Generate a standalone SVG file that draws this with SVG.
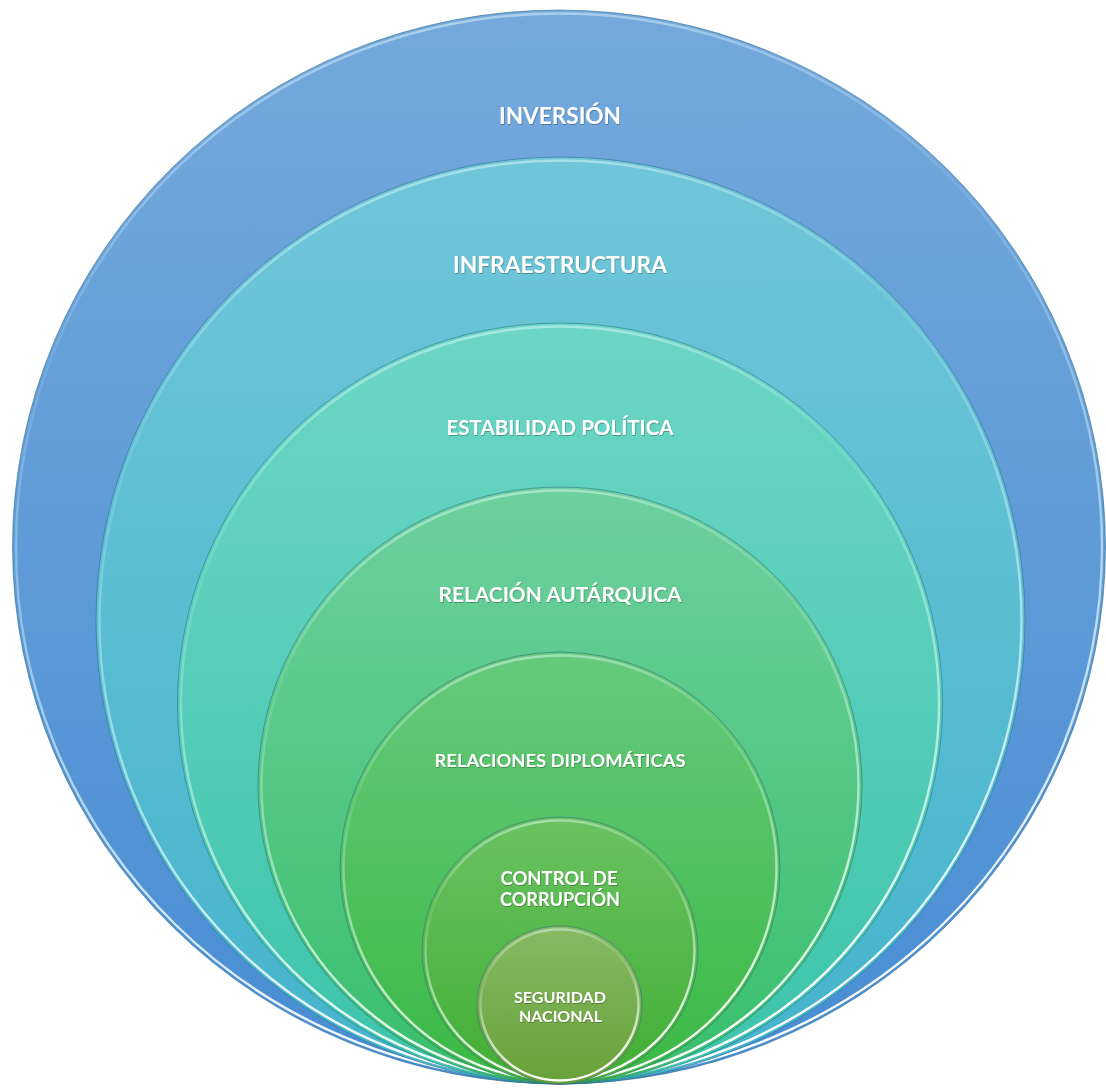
<svg xmlns="http://www.w3.org/2000/svg" width="1106" height="1088" viewBox="0 0 1106 1088">
<defs>
<linearGradient id="g1" x1="0" y1="0" x2="0" y2="1"><stop offset="0" stop-color="#75a9dc"/><stop offset="1" stop-color="#488dd3"/></linearGradient>
<linearGradient id="g2" x1="0" y1="0" x2="0" y2="1"><stop offset="0" stop-color="#70c6d8"/><stop offset="1" stop-color="#44b4cc"/></linearGradient>
<linearGradient id="g3" x1="0" y1="0" x2="0" y2="1"><stop offset="0" stop-color="#6dd6c6"/><stop offset="1" stop-color="#3cc4aa"/></linearGradient>
<linearGradient id="g4" x1="0" y1="0" x2="0" y2="1"><stop offset="0" stop-color="#6ed09e"/><stop offset="1" stop-color="#38bf6c"/></linearGradient>
<linearGradient id="g5" x1="0" y1="0" x2="0" y2="1"><stop offset="0" stop-color="#66c97c"/><stop offset="1" stop-color="#3bb944"/></linearGradient>
<linearGradient id="g6" x1="0" y1="0" x2="0" y2="1"><stop offset="0" stop-color="#69c262"/><stop offset="1" stop-color="#42ae34"/></linearGradient>
<linearGradient id="g7" x1="0" y1="0" x2="0" y2="1"><stop offset="0" stop-color="#86bb64"/><stop offset="1" stop-color="#68a038"/></linearGradient>
<linearGradient id="rim" x1="0.1" y1="0" x2="0.3" y2="1">
<stop offset="0" stop-color="#e8ffff" stop-opacity="1"/>
<stop offset="0.07" stop-color="#e8ffff" stop-opacity="0.45"/>
<stop offset="0.3" stop-color="#e8ffff" stop-opacity="0.1"/>
<stop offset="0.65" stop-color="#f0ffff" stop-opacity="0.55"/>
<stop offset="1" stop-color="#ffffff" stop-opacity="1"/>
</linearGradient>
<filter id="soft" x="-5%" y="-5%" width="110%" height="110%"><feGaussianBlur stdDeviation="0.6"/></filter>
<filter id="ts" x="-10%" y="-30%" width="120%" height="160%"><feDropShadow dx="0.6" dy="0.8" stdDeviation="0.6" flood-color="#000" flood-opacity="0.35"/></filter>
</defs>
<style>
.disc{stroke:#2a6a8a;stroke-opacity:0.55;stroke-width:1}
.hl{fill:none;stroke:url(#rim);stroke-width:2.4;filter:url(#soft)}
.lbl{font-family:Lato,"Open Sans","DejaVu Sans",sans-serif;font-weight:bold;fill:#ffffff;text-anchor:middle;filter:url(#ts)}
</style>
<g id="node-inversion">
<ellipse class="disc" cx="559" cy="547" rx="546.5" ry="537" fill="url(#g1)"/>
<ellipse class="hl" cx="559" cy="547" rx="543" ry="533.5"/>
<text class="lbl" x="560" y="124" font-size="23" textLength="122" lengthAdjust="spacingAndGlyphs">INVERSIÓN</text>
</g>
<g id="node-infraestructura">
<ellipse class="disc" cx="560.5" cy="620.5" rx="464.5" ry="463.5" fill="url(#g2)"/>
<ellipse class="hl" cx="560.5" cy="620.5" rx="461" ry="460"/>
<text class="lbl" x="560" y="273" font-size="22" textLength="214" lengthAdjust="spacingAndGlyphs">INFRAESTRUCTURA</text>
</g>
<g id="node-estabilidad">
<ellipse class="disc" cx="560" cy="703.5" rx="382.5" ry="380.5" fill="url(#g3)"/>
<ellipse class="hl" cx="560" cy="703.5" rx="379" ry="377"/>
<text class="lbl" x="560" y="435" font-size="21" textLength="227" lengthAdjust="spacingAndGlyphs">ESTABILIDAD POLÍTICA</text>
</g>
<g id="node-relacion">
<ellipse class="disc" cx="560" cy="785.5" rx="302" ry="298.5" fill="url(#g4)"/>
<ellipse class="hl" cx="560" cy="785.5" rx="298.5" ry="295"/>
<text class="lbl" x="560" y="602" font-size="21" textLength="243" lengthAdjust="spacingAndGlyphs">RELACIÓN AUTÁRQUICA</text>
</g>
<g id="node-diplomaticas">
<ellipse class="disc" cx="560" cy="868" rx="220" ry="216" fill="url(#g5)"/>
<ellipse class="hl" cx="560" cy="868" rx="216.5" ry="212.5"/>
<text class="lbl" x="560" y="767" font-size="16.5" textLength="251" lengthAdjust="spacingAndGlyphs">RELACIONES DIPLOMÁTICAS</text>
</g>
<g id="node-corrupcion">
<ellipse class="disc" cx="560" cy="950.5" rx="138" ry="133.5" fill="url(#g6)"/>
<ellipse class="hl" cx="560" cy="950.5" rx="134.5" ry="130"/>
<text class="lbl" x="559" y="885" font-size="18.5" textLength="117" lengthAdjust="spacingAndGlyphs">CONTROL DE</text>
<text class="lbl" x="560" y="906" font-size="18.5" textLength="120" lengthAdjust="spacingAndGlyphs">CORRUPCIÓN</text>
</g>
<g id="node-seguridad">
<ellipse class="disc" cx="559.5" cy="1005" rx="82.5" ry="79" fill="url(#g7)"/>
<ellipse class="hl" cx="559.5" cy="1005" rx="79" ry="75.5"/>
<text class="lbl" x="560" y="1003" font-size="15" textLength="92" lengthAdjust="spacingAndGlyphs">SEGURIDAD</text>
<text class="lbl" x="560.5" y="1022" font-size="15" textLength="83" lengthAdjust="spacingAndGlyphs">NACIONAL</text>
</g>
</svg>
